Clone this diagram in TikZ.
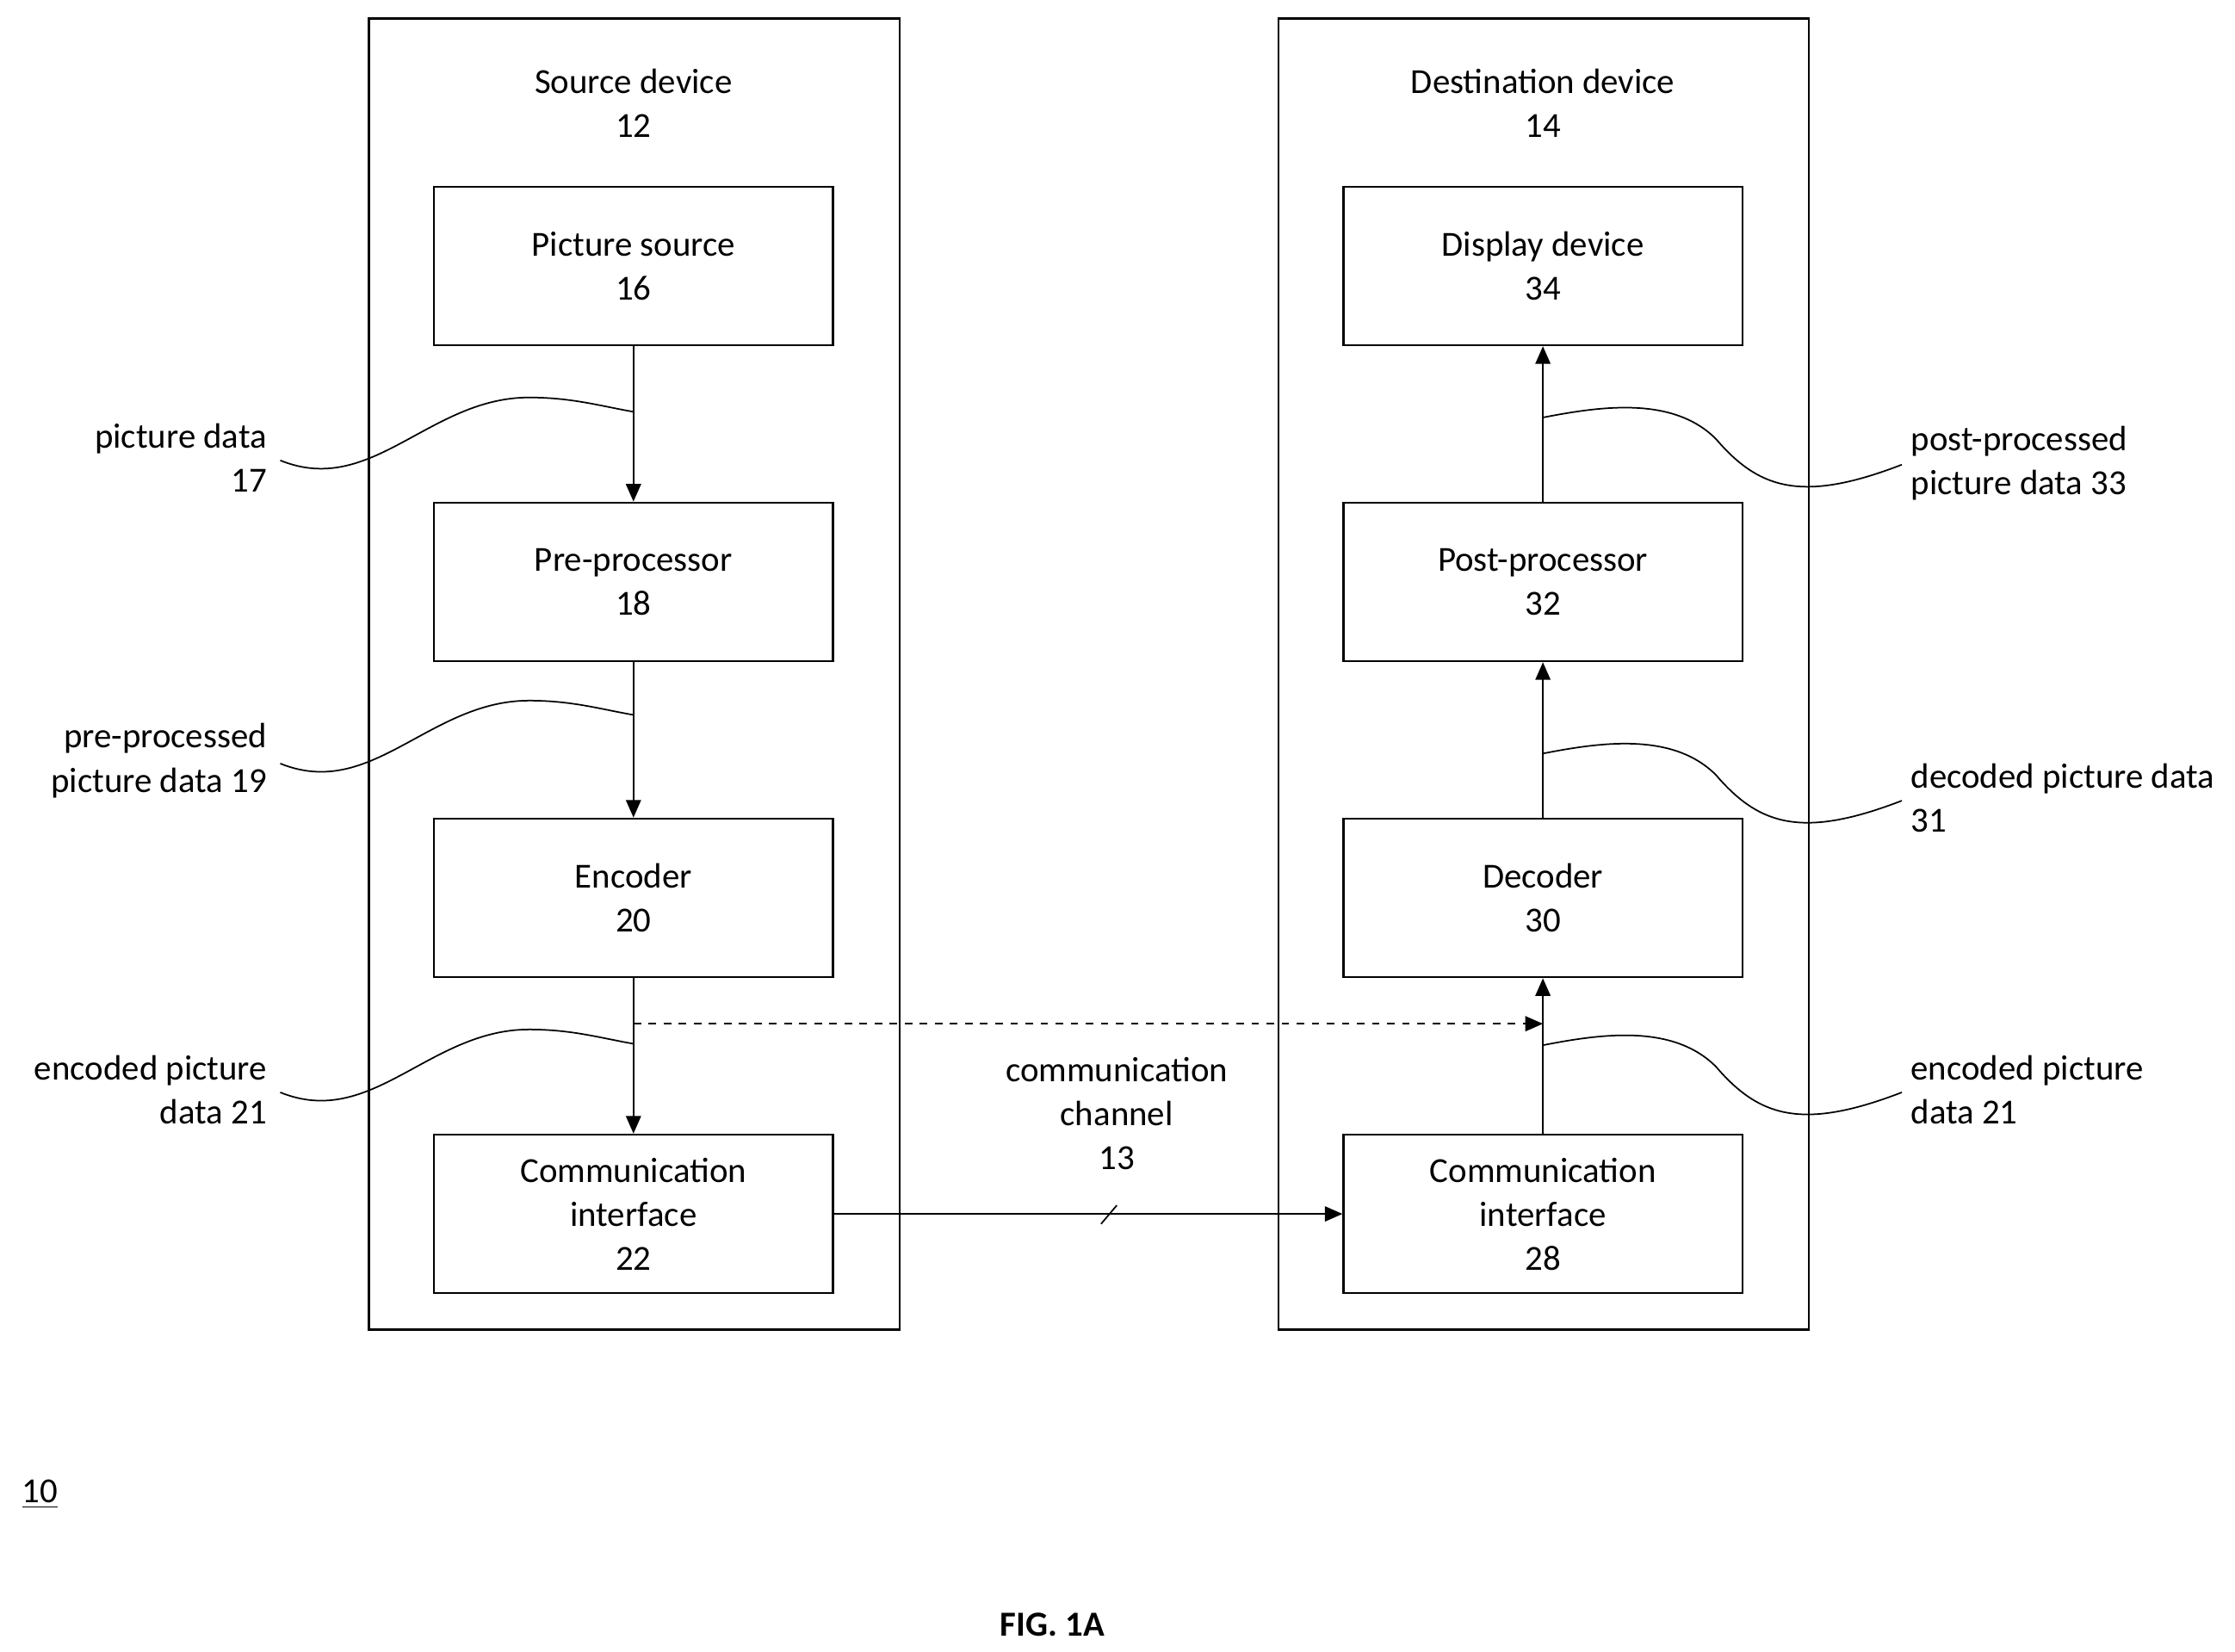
\documentclass[tikz,border=0pt]{standalone}
\usepackage{fontspec}
\setmainfont{Carlito}
\usetikzlibrary{arrows.meta}

\tikzset{
  block/.style={draw, thick, minimum width=5.58cm, minimum height=2.22cm, align=center, inner sep=0pt},
  device/.style={draw, thick},
  flow/.style={-{Triangle[length=7pt,width=6pt]}, semithick},
  lead/.style={semithick},
  txt/.style={align=center, inner sep=0pt},
}

\begin{document}
\begin{tikzpicture}[x={(0.02cm,0)}, y={(0,-0.02cm)}, font=\fontsize{14}{17.5}\selectfont]
  \useasboundingbox (0,0) rectangle (1563,1155);
  % Devices
  \draw[device] (258,13) rectangle (629,930);
  \draw[device] (894,13) rectangle (1265,930);
  \node[txt] (srclbl) at (443,72) {Source device\\12};
  \node[txt] (dstlbl) at (1079,72) {Destination device\\14};
  % Source blocks
  \node[block] (psrc) at (443,186) {Picture source\\16};
  \node[block] (pre) at (443,407) {Pre-processor\\18};
  \node[block] (enc) at (443,628) {Encoder\\20};
  \node[block] (ci22) at (443,849) {Communication\\interface\\22};
  % Destination blocks
  \node[block] (disp) at (1079,186) {Display device\\34};
  \node[block] (post) at (1079,407) {Post-processor\\32};
  \node[block] (dec) at (1079,628) {Decoder\\30};
  \node[block] (ci28) at (1079,849) {Communication\\interface\\28};
  % Flow
  \draw[flow] (psrc) -- (pre);
  \draw[flow] (pre) -- (enc);
  \draw[flow] (enc) -- (ci22);
  \draw[flow] (ci28) -- (dec);
  \draw[flow] (dec) -- (post);
  \draw[flow] (post) -- (disp);
  \draw[flow] (ci22) -- (ci28);
  \draw[semithick] (770,856) -- (781,843);
  \node[txt] (chan) at (781,779) {communication\\channel\\13};
  \coordinate (dfrom) at (443,716);
  \coordinate (dto) at (1079,716);
  \draw[flow, dashed] (dfrom) -- (dto);
  % Leaders
  \node[txt, anchor=east, align=right] (l17) at (187,320) {picture data\\17};
  \node[txt, anchor=east, align=right] (l19) at (187,532) {pre-processed\\picture data 19};
  \node[txt, anchor=east, align=right] (l21) at (187,762) {encoded picture\\data 21};
  \node[txt, anchor=west, align=left] (l33) at (1336,324) {post-processed\\picture data 33};
  \node[txt, anchor=west, align=left] (l31) at (1336,558) {decoded picture data\\31};
  \node[txt, anchor=west, align=left] (r21) at (1336,762) {encoded picture\\data 21};
  \foreach \lbl/\yy in {l17/288, l19/500, l21/730}
    \draw[lead] (196,\yy+34) .. controls (260,\yy+60) and (300,\yy-10) .. (370,\yy-10) .. controls (400,\yy-10) and (420,\yy-4) .. (443,\yy);
  \foreach \lbl/\yy in {l33/292, l31/527, r21/731}
    \draw[lead] (1330,\yy+33) .. controls (1260,\yy+60) and (1230,\yy+50) .. (1200,\yy+15) .. controls (1170,\yy-15) and (1120,\yy-8) .. (1079,\yy);
  % Figure labels
  \node[txt] (ten) at (28,1045) {\underline{10}};
  \node[txt] (fig) at (736,1136) {\textbf{FIG. 1A}};
\end{tikzpicture}
\end{document}
